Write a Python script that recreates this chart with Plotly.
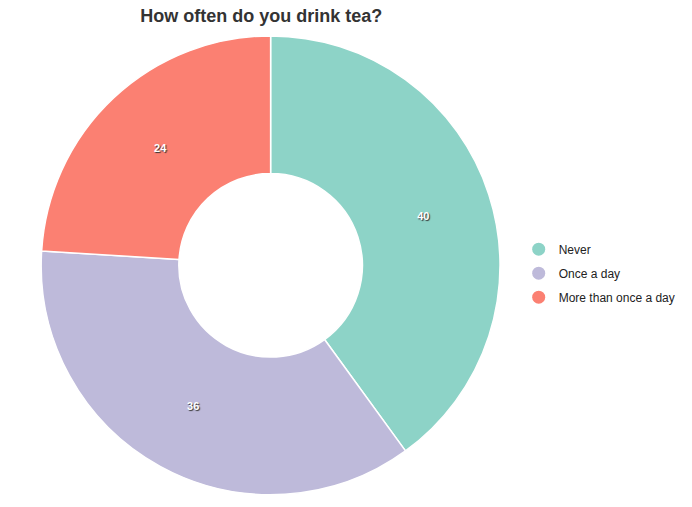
import plotly.graph_objects as go

labels = ["Never", "Once a day", "More than once a day"]
values = [40, 36, 24]
colors = ["#8dd3c7", "#bebada", "#fb8072"]

fig = go.Figure()
fig.add_trace(go.Pie(
    labels=labels, values=values, hole=0.4, sort=False, direction="clockwise", rotation=0,
    marker=dict(colors=colors, line=dict(color="white", width=1.5)),
    textinfo="value", textposition="inside", insidetextorientation="horizontal",
    textfont=dict(color="white", size=11, family="Arial", weight="bold", shadow="1px 1px 1px #333"),
    showlegend=False, hoverinfo="label+value",
    domain=dict(x=[0.041, 0.718], y=[0.04, 0.945]),
))
for i, (l, c) in enumerate(zip(labels, colors)):
    fig.add_trace(go.Scatter(x=[None], y=[None], mode="markers", name=l, legendgroup=f"g{i}",
                             marker=dict(color=c, size=13, symbol="circle")))
fig.update_layout(
    width=692, height=507, margin=dict(l=0, r=0, t=0, b=0),
    paper_bgcolor="white", plot_bgcolor="white",
    title=dict(text="<b>How often do you drink tea?</b>", x=0.366, xanchor="center", y=0.985, yanchor="middle",
               font=dict(size=18, color="#333", family="Arial")),
    legend=dict(x=0.738, y=0.477, xanchor="left", yanchor="middle", font=dict(size=12, color="#222", family="Arial"),
                itemwidth=30, tracegroupgap=5),
    xaxis=dict(visible=False), yaxis=dict(visible=False),
)
fig.write_html("out.html")
